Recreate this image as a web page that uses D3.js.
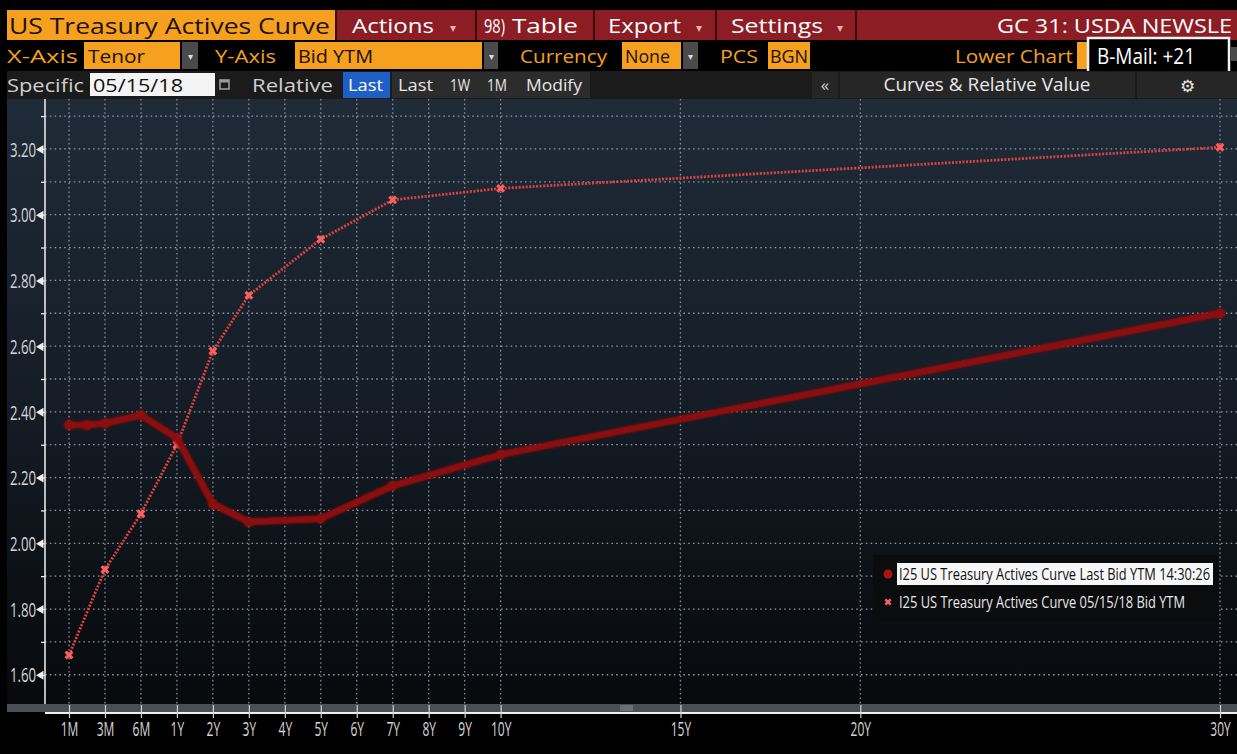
<!DOCTYPE html>
<html><head><meta charset="utf-8">
<script src="https://cdn.jsdelivr.net/npm/d3@7"></script>
<style>
html,body{margin:0;padding:0;background:#000;overflow:hidden}
svg{display:block}
text{font-family:"Open Sans","Noto Sans",sans-serif}
</style></head><body>
<svg id="c" width="1237" height="754"></svg>
<script>
// ---------------- data ----------------
const tickLabels = ["1M","3M","6M","1Y","2Y","3Y","4Y","5Y","6Y","7Y","8Y","9Y","10Y","15Y","20Y","30Y"];
const tickTenors = [1/12,0.25,0.5,1,2,3,4,5,6,7,8,9,10,15,20,30];
const yTickValues = [1.60,1.70,1.80,1.90,2.00,2.10,2.20,2.30,2.40,2.50,2.60,2.70,2.80,2.90,3.00,3.10,3.20,3.30];
const yLabelValues = [1.60,1.80,2.00,2.20,2.40,2.60,2.80,3.00,3.20];
const lastTenors = [1/12,2/12,0.25,0.5,1,2,3,5,7,10,30];
const lastYields  = [2.36,2.36,2.365,2.39,2.32,2.12,2.065,2.075,2.175,2.27,2.70];
const histTenors = [1/12,0.25,0.5,1,2,3,5,7,10,30];
const histYields  = [1.66,1.92,2.09,2.30,2.585,2.755,2.925,3.045,3.08,3.205];
const legendLabels = ["I25 US Treasury Actives Curve Last Bid YTM 14:30:26","I25 US Treasury Actives Curve 05/15/18 Bid YTM"];
const title = "US Treasury Actives Curve";

// ---------------- layout ----------------
const W = 1237, H = 754;
const svg = d3.select("#c");
const ORANGE = "#f5a01f", RED = "#8c1d25";
const plotTop = 99, plotBottom = 705, axisX = 45;
const NARROW = "Liberation Sans, Arial, sans-serif";

const defs = svg.append("defs");
const grad = defs.append("linearGradient").attr("id","bg").attr("x1",0).attr("y1",0).attr("x2",0).attr("y2",1);
grad.append("stop").attr("offset","0%").attr("stop-color","#1f2b38");
grad.append("stop").attr("offset","45%").attr("stop-color","#161e28");
grad.append("stop").attr("offset","100%").attr("stop-color","#07090c");
const blur = defs.append("filter").attr("id","soft").attr("x","-5%").attr("y","-5%").attr("width","110%").attr("height","110%");
blur.append("feGaussianBlur").attr("stdDeviation",0.8);

svg.append("rect").attr("width",W).attr("height",H).attr("fill","#000");

function txt(g, s, x, y, o) {
  o = o || {};
  const t = g.append("text").attr("x",x).attr("y",y).text(s)
    .attr("font-size",o.size||19).attr("fill",o.fill||"#fff");
  if (o.len) t.attr("textLength",o.len).attr("lengthAdjust","spacingAndGlyphs");
  if (o.anchor) t.attr("text-anchor",o.anchor);
  if (o.family) t.attr("font-family",o.family);
  if (o.weight) t.attr("font-weight",o.weight);
  return t;
}
// narrow text: drawn in a horizontally compressed group
function ntxt(g, s, x, y, o) {
  o = o || {};
  const k = o.k || 0.75;
  const gg = g.append("g").attr("transform",`translate(${x},${y}) scale(${k},1)`);
  const t = gg.append("text").attr("x",0).attr("y",0).text(s)
    .attr("font-size",o.size||17).attr("fill",o.fill||"#fff").attr("font-family",o.family||NARROW);
  if (o.len) t.attr("textLength",o.len/k).attr("lengthAdjust","spacingAndGlyphs");
  if (o.anchor) t.attr("text-anchor",o.anchor);
  return t;
}

// ---------- header row 1 ----------
const hdr = svg.append("g");
hdr.append("rect").attr("x",335).attr("y",10).attr("width",W-335).attr("height",30).attr("fill","#3a0d10");
hdr.append("rect").attr("x",7).attr("y",10).attr("width",328).attr("height",30).attr("fill",ORANGE);
txt(hdr, title, 9, 34, {size:22, fill:"#1c1205", len:321});
const boxes = [[337,475],[477,593],[595,715],[717,855]];
boxes.forEach(b=>{
  hdr.append("rect").attr("x",b[0]).attr("y",10).attr("width",b[1]-b[0]).attr("height",30).attr("fill",RED);
});
txt(hdr, "Actions", 352, 33, {size:20, len:82});
txt(hdr, "▾", 450, 32, {size:12, fill:"#e8b0b0", family:"DejaVu Sans"});
ntxt(hdr, "98)", 484, 33, {size:20, len:21, family:"Open Sans"});
txt(hdr, "Table", 512, 33, {size:20, len:66});
txt(hdr, "Export", 608, 33, {size:20, len:73});
txt(hdr, "▾", 696, 32, {size:12, fill:"#e8b0b0", family:"DejaVu Sans"});
txt(hdr, "Settings", 731, 33, {size:20, len:92});
txt(hdr, "▾", 837, 32, {size:12, fill:"#e8b0b0", family:"DejaVu Sans"});
hdr.append("rect").attr("x",857).attr("y",10).attr("width",W-857).attr("height",30).attr("fill",RED);
txt(hdr, "GC 31: USDA NEWSLE", 1232, 33, {size:20, anchor:"end", len:235});

// ---------- header row 2 ----------
function obox(x1,x2){ hdr.append("rect").attr("x",x1).attr("y",42).attr("width",x2-x1).attr("height",27).attr("fill",ORANGE); }
function dbox(x1,x2){
  hdr.append("rect").attr("x",x1).attr("y",42).attr("width",x2-x1).attr("height",27).attr("fill","#4a4a4a");
  txt(hdr,"▾",(x1+x2)/2,60,{size:10,fill:"#ddd",anchor:"middle",family:"DejaVu Sans"});
}
txt(hdr, "X-Axis", 7, 63, {size:19, fill:ORANGE, len:71});
obox(84,180); txt(hdr,"Tenor",88,63,{size:19,fill:"#1c1205",len:57});
dbox(182,198);
txt(hdr, "Y-Axis", 215, 63, {size:19, fill:ORANGE, len:61});
obox(295,482); txt(hdr,"Bid YTM",298,63,{size:19,fill:"#1c1205",len:75});
dbox(484,498);
txt(hdr, "Currency", 520, 63, {size:19, fill:ORANGE, len:87});
obox(622,681); txt(hdr,"None",625,63,{size:19,fill:"#1c1205",len:45});
dbox(683,698);
txt(hdr, "PCS", 720, 63, {size:19, fill:ORANGE, len:38});
obox(768,810); txt(hdr,"BGN",770,63,{size:19,fill:"#1c1205",len:38});
txt(hdr, "Lower Chart", 955, 63, {size:19, fill:ORANGE, len:118});
obox(1077,1092);
hdr.append("rect").attr("x",1231).attr("y",47).attr("width",6).attr("height",14).attr("fill","#4a4a4a");
hdr.append("rect").attr("x",1088).attr("y",38).attr("width",141).attr("height",35).attr("fill","#000").attr("stroke","#f2f2f2").attr("stroke-width",2.5);
ntxt(hdr, "B-Mail: +21", 1097, 64, {size:21, fill:"#fff", family:"DejaVu Sans Mono, Liberation Mono, monospace", k:0.62, len:98});

// ---------- header row 3 ----------
hdr.append("rect").attr("x",7).attr("y",71).attr("width",W-7).attr("height",28).attr("fill","#1b1b1b");
txt(hdr, "Specific", 7, 92, {size:19, fill:"#cfcfcf", len:77});
hdr.append("rect").attr("x",90).attr("y",73).attr("width",125).attr("height",23).attr("fill","#f4f4f4");
txt(hdr, "05/15/18", 93, 92, {size:19, fill:"#111", len:90});
hdr.append("rect").attr("x",220).attr("y",80).attr("width",9).attr("height",9).attr("fill","none").attr("stroke","#9a9a9a").attr("stroke-width",1.6);
hdr.append("rect").attr("x",220).attr("y",80).attr("width",9).attr("height",2.5).attr("fill","#9a9a9a");
txt(hdr, "Relative", 252, 92, {size:19, fill:"#cfcfcf", len:81});
hdr.append("rect").attr("x",343).attr("y",72).attr("width",47).attr("height",26).attr("fill","#1d5fc4");
txt(hdr, "Last", 348, 91, {size:17, fill:"#fff", len:35});
hdr.append("rect").attr("x",392).attr("y",72).attr("width",198).attr("height",26).attr("fill","#2c2c2c");
txt(hdr, "Last", 398, 91, {size:17, fill:"#e6e6e6", len:35});
txt(hdr, "1W", 450, 91, {size:17, fill:"#e6e6e6", len:20});
txt(hdr, "1M", 487, 91, {size:17, fill:"#e6e6e6", len:20});
txt(hdr, "Modify", 526, 91, {size:17, fill:"#e6e6e6", len:56});
hdr.append("rect").attr("x",812).attr("y",72).attr("width",26).attr("height",26).attr("fill","#262626");
txt(hdr, "«", 825, 91, {size:17, fill:"#ccc", anchor:"middle"});
hdr.append("rect").attr("x",840).attr("y",72).attr("width",295).attr("height",26).attr("fill","#262626");
txt(hdr, "Curves & Relative Value", 987, 91, {size:18, fill:"#e6e6e6", anchor:"middle", len:207});
hdr.append("rect").attr("x",1137).attr("y",72).attr("width",100).attr("height",26).attr("fill","#262626");
txt(hdr, "⚙", 1187, 92, {size:17, fill:"#e6e6e6", anchor:"middle", family:"DejaVu Sans"});

// ---------- plot area ----------
svg.append("rect").attr("x",7).attr("y",plotTop).attr("width",W-7).attr("height",plotBottom-plotTop).attr("fill","url(#bg)");

const s = (1220-69)/32;
const x = d3.scaleLinear().domain([1/12,0.25,0.5,1,30]).range([69,69+s,69+2*s,69+3*s,1220]);
const y = d3.scaleLinear().domain([1.508,3.352]).range([plotBottom,plotTop]);

// grid
const grid = svg.append("g");
grid.selectAll("line.h").data(yTickValues).join("line")
  .attr("x1",axisX).attr("x2",W).attr("y1",d=>y(d)).attr("y2",d=>y(d))
  .attr("stroke","#a9b3bd").attr("stroke-opacity",0.8).attr("stroke-width",1.3).attr("stroke-dasharray","1.6,3.2");
grid.selectAll("line.v").data(tickTenors).join("line")
  .attr("x1",d=>x(d)).attr("x2",d=>x(d)).attr("y1",plotTop).attr("y2",plotBottom)
  .attr("stroke","#a9b3bd").attr("stroke-opacity",0.75).attr("stroke-width",1.3).attr("stroke-dasharray","1.6,2.8");

// y axis
const yAxis = svg.append("g").attr("transform",`translate(${axisX},0)`)
  .call(d3.axisLeft(y).tickValues(yTickValues).tickSize(4)
    .tickFormat(d => yLabelValues.some(v=>Math.abs(v-d)<1e-6) ? d3.format(".2f")(d) : ""));
yAxis.select(".domain").attr("d",`M0,${plotTop}V${plotBottom}`).attr("stroke","#e6e6e6").attr("stroke-width",1.6);
yAxis.selectAll(".tick line").attr("stroke","#e6e6e6").attr("stroke-width",1.3);
yAxis.selectAll(".tick text").attr("fill","#d6d6d6").attr("font-size",20)
  .attr("font-family",NARROW)
  .attr("x",-9/0.66).attr("transform","scale(0.66,1)").attr("dy","0.36em");
yAxis.selectAll(".tick").filter(d => yLabelValues.some(v=>Math.abs(v-d)<1e-6))
  .append("path").attr("d","M-9,0L-1.5,-4.5L-1.5,4.5Z").attr("fill","#eeeeee");

// scrollbar + x axis
svg.append("rect").attr("x",7).attr("y",plotBottom-1).attr("width",W-7).attr("height",8).attr("fill","#4a4f53");
const grip = svg.append("g").attr("stroke","#8a8f93").attr("stroke-width",1);
[706,708,710].forEach(v=>grip.append("line").attr("x1",620).attr("x2",633).attr("y1",v).attr("y2",v));
const xAxis = svg.append("g").attr("transform",`translate(0,713)`)
  .call(d3.axisBottom(x).tickValues(tickTenors).tickSize(5).tickFormat((d,i)=>tickLabels[i]));
xAxis.select(".domain").attr("d",`M${axisX},0H${W}`).attr("stroke","#f0f0f0").attr("stroke-width",2.2);
xAxis.selectAll(".tick line").attr("stroke","#cfcfcf").attr("stroke-width",1.2).attr("y1",-8);
xAxis.selectAll(".tick text").attr("fill","#d6d6d6").attr("font-size",20)
  .attr("font-family",NARROW)
  .attr("y",9).attr("dy","0.71em").attr("transform","scale(0.6,1)");

// ---------- series ----------
const lastData = lastTenors.map((t,i)=>({t, v:lastYields[i]}));
const histData = histTenors.map((t,i)=>({t, v:histYields[i]}));
const line = d3.line().x(d=>x(d.t)).y(d=>y(d.v));

const series = svg.append("g");
series.append("path").datum(histData).attr("d",line).attr("fill","none")
  .attr("stroke","#dc423e").attr("stroke-width",2.8).attr("stroke-dasharray","2,1.5");
const xMark = d3.symbol().type(d3.symbolCross).size(50);
series.selectAll("path.hm").data(histData).join("path").attr("class","hm")
  .attr("d",xMark).attr("fill","#ff5e5a")
  .attr("transform",d=>`translate(${x(d.t)},${y(d.v)}) rotate(45)`);

const lastG = series.append("g").attr("filter","url(#soft)");
lastG.append("path").datum(lastData).attr("d",line).attr("fill","none")
  .attr("stroke","#900c0e").attr("stroke-width",7).attr("stroke-linejoin","round").attr("stroke-linecap","round");
lastG.selectAll("circle").data(lastData).join("circle")
  .attr("cx",d=>x(d.t)).attr("cy",d=>y(d.v)).attr("r",5.2).attr("fill","#900c0e");

// ---------- legend ----------
const lg = svg.append("g");
lg.append("rect").attr("x",873).attr("y",555).attr("width",345).attr("height",67).attr("fill","#0b0c0e");
lg.append("rect").attr("x",897).attr("y",563).attr("width",316).attr("height",22).attr("fill","#f7f7f7");
lg.append("circle").attr("cx",888).attr("cy",574).attr("r",4.5).attr("fill","#b0100f");
lg.append("path").attr("d",xMark).attr("fill","#ff5e5a").attr("transform","translate(888,602) rotate(45) scale(0.8)");
ntxt(lg, legendLabels[0], 899, 580, {size:16, fill:"#111", k:0.8, len:311});
ntxt(lg, legendLabels[1], 899, 608, {size:16, fill:"#e8e8e8", k:0.8, len:286});
</script>
</body></html>
